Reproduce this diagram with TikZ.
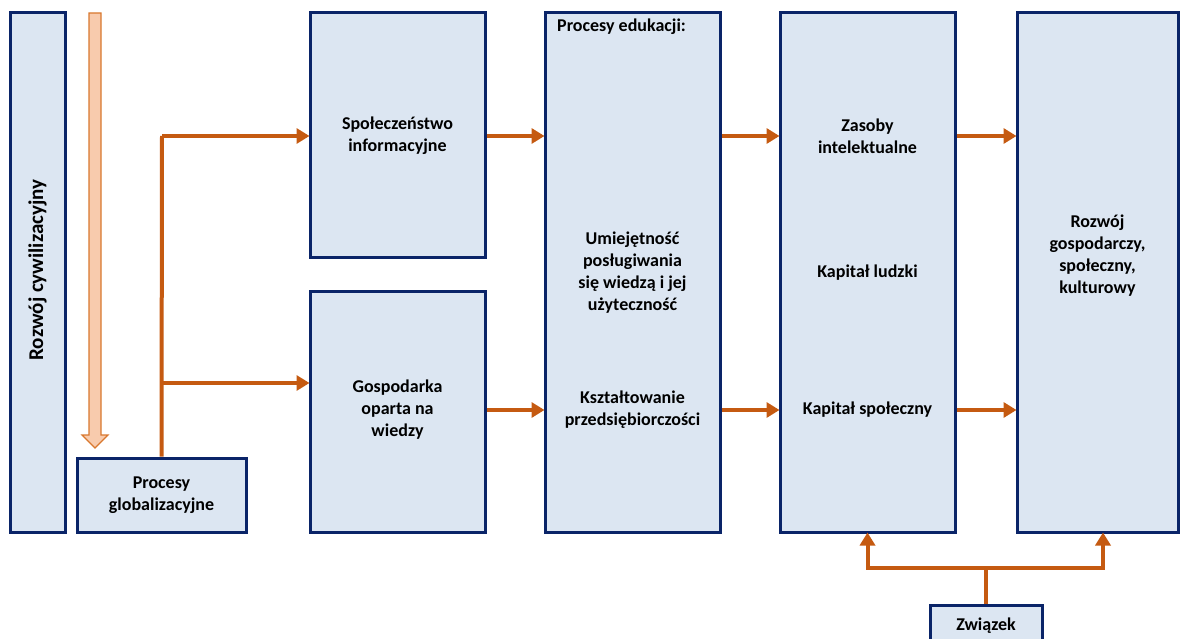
\documentclass[tikz,border=0pt]{standalone}
\usepackage{fontspec}
\setmainfont{Carlito}
\usetikzlibrary{arrows.meta,calc}
\definecolor{boxfill}{HTML}{DCE6F2}
\definecolor{boxline}{HTML}{0A2468}
\definecolor{arrcol}{HTML}{C55A11}
\definecolor{hollowfill}{HTML}{F8CBAD}
\definecolor{hollowline}{HTML}{D9782F}
\tikzset{
  box/.style={draw=boxline, fill=boxfill, line width=3pt, rectangle, inner sep=0pt},
  lbl/.style={font=\bfseries\fontsize{18}{22}\selectfont, align=center, text=black, inner sep=0pt},
  conn/.style={draw=arrcol, line width=4pt},
  arr/.style={conn, -{Triangle[length=13pt,width=15pt]}, shorten >=-1pt},
}
\begin{document}
\begin{tikzpicture}[x=1pt,y=-1pt]
\useasboundingbox (0,0) rectangle (1180,639);
% boxes
\node[box, minimum width=55pt, minimum height=519pt] (civ) at (37.5,272.5) {};
\node[lbl, rotate=90, font=\bfseries\fontsize{21}{24}\selectfont] (civt) at (37.5,270) {Rozwój cywilizacyjny};
\node[box, minimum width=169pt, minimum height=74pt] (glob) at (161.5,495) {};
\node[lbl] (globt) at (161.5,495) {Procesy\\globalizacyjne};
\node[box, minimum width=175pt, minimum height=244pt] (spol) at (397.5,135) {};
\node[lbl] (spolt) at (397.5,136) {Społeczeństwo\\informacyjne};
\node[box, minimum width=175pt, minimum height=241pt] (gosp) at (397.5,411.5) {};
\node[lbl] (gospt) at (397.5,410) {Gospodarka\\oparta na\\wiedzy};
\node[box, minimum width=175pt, minimum height=519pt] (edu) at (632.5,272.5) {};
\node[lbl, anchor=west] (edut) at (557,27) {Procesy edukacji:};
\node[lbl] (umt) at (632.5,273) {Umiejętność\\posługiwania\\się wiedzą i jej\\użyteczność};
\node[lbl] (kszt) at (632.5,410) {Kształtowanie\\przedsiębiorczości};
\node[box, minimum width=175pt, minimum height=519pt] (zas) at (867.5,272.5) {};
\node[lbl] (zast) at (867.5,136) {Zasoby\\intelektualne};
\node[lbl] (kapl) at (867.5,273) {Kapitał ludzki};
\node[lbl] (kaps) at (867.5,410) {Kapitał społeczny};
\node[box, minimum width=161pt, minimum height=519pt] (roz) at (1097.5,272.5) {};
\node[lbl] (rozt) at (1097.5,256) {Rozwój\\gospodarczy,\\społeczny,\\kulturowy};
\node[box, minimum width=112pt, minimum height=50pt] (zw) at (986,630) {};
\node[lbl] (zwt) at (986,626) {Związek};
% hollow arrow
\draw[draw=hollowline, fill=hollowfill, line width=1.2pt, line join=miter]
  (89,13) -- (101,13) -- (101,435) -- (108,435) -- (95,448) -- (82,435) -- (89,435) -- cycle;
% connectors
\coordinate (j1) at (162,136);
\coordinate (j2) at (162,383);
\draw[conn] (glob.north) -- (j1);
\draw[arr] (j1) -- (j1 -| spol.west);
\draw[arr] (j2) -- (j2 -| gosp.west);
\draw[arr] (spolt -| spol.east) -- (spolt -| edu.west);
\draw[arr] (gospt -| gosp.east) -- (gospt -| edu.west);
\draw[arr] (zast -| edu.east) -- (zast -| zas.west);
\draw[arr] (kszt -| edu.east) -- (kszt -| zas.west);
\draw[arr] (zast -| zas.east) -- (zast -| roz.west);
\draw[arr] (kaps -| zas.east) -- (kaps -| roz.west);
\coordinate (jz) at (986,568);
\coordinate (rb) at ($(roz.south)+(5.5,0)$);
\draw[conn] (zw.north) -- (jz);
\draw[arr] (jz) -| (zas.south);
\draw[arr] (jz) -| (rb);
\end{tikzpicture}
\end{document}
